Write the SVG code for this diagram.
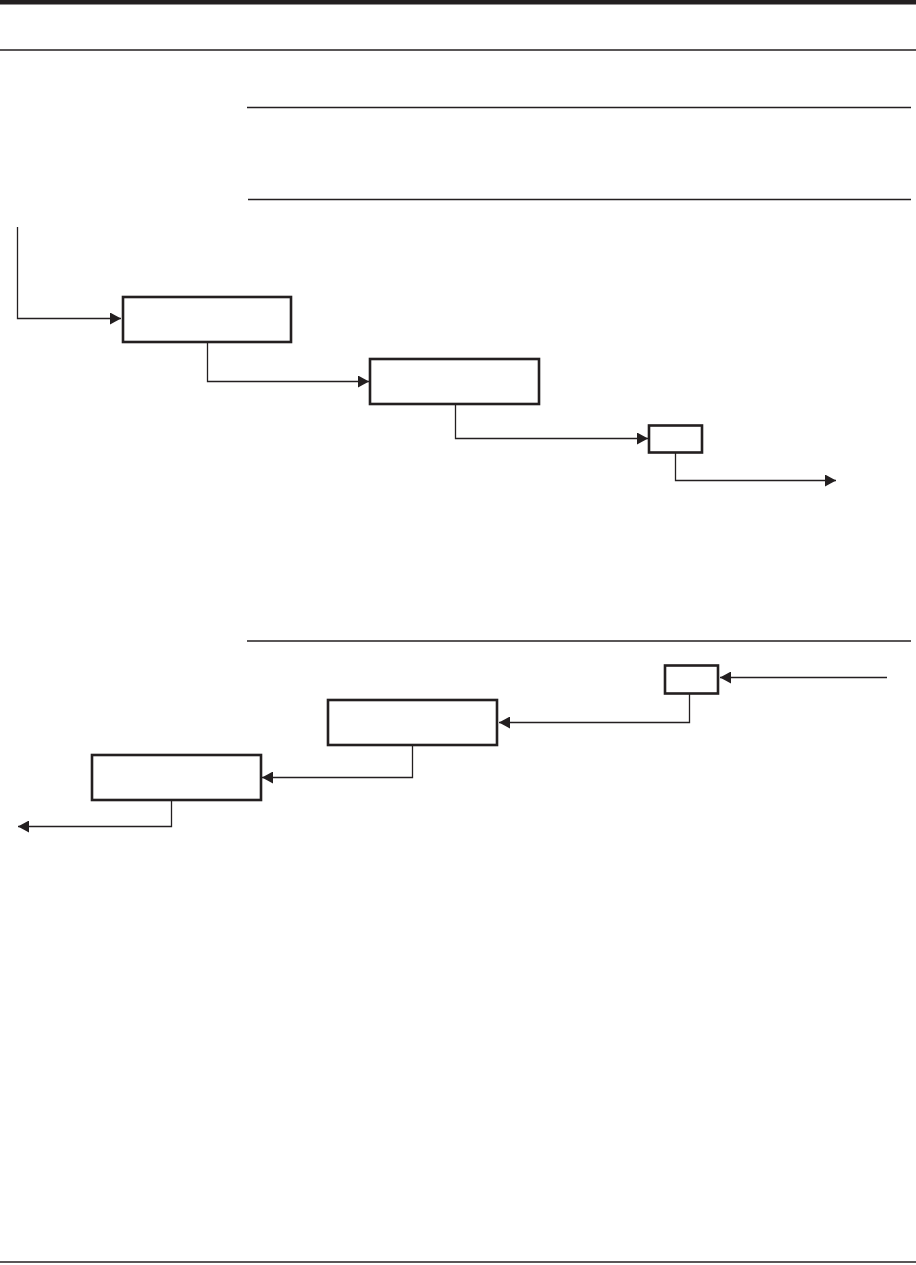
<svg xmlns="http://www.w3.org/2000/svg" width="916" height="1265" viewBox="0 0 916 1265">
<style>
.rule{stroke:#231f20;stroke-width:1.4;fill:none}
.box{fill:#fff;stroke:#231f20;stroke-width:2.6}
.conn{stroke:#231f20;stroke-width:1.3;fill:none}
</style>
<defs>
<marker id="ah" markerWidth="11" markerHeight="12" refX="11" refY="6" orient="auto" markerUnits="userSpaceOnUse">
<path d="M0,0 L11,6 L0,12 Z" fill="#231f20"/>
</marker>
</defs>
<rect width="916" height="1265" fill="#fff"/>
<g id="rules">
<rect x="0" y="0" width="916" height="4.5" fill="#231f20"/>
<line class="rule" x1="0" y1="50" x2="916" y2="50"/>
<line class="rule" x1="247" y1="107.5" x2="911" y2="107.5"/>
<line class="rule" x1="248" y1="199.5" x2="911" y2="199.5"/>
<line class="rule" x1="247" y1="641" x2="911" y2="641"/>
<line class="rule" x1="0" y1="1262" x2="916" y2="1262"/>
</g>
<g id="connectors">
<polyline class="conn" points="17.5,227 17.5,318.5 121,318.5" marker-end="url(#ah)"/>
<polyline class="conn" points="207.5,343 207.5,381.5 369,381.5" marker-end="url(#ah)"/>
<polyline class="conn" points="455.5,405 455.5,438.5 648,438.5" marker-end="url(#ah)"/>
<polyline class="conn" points="675.5,453 675.5,480.5 836,480.5" marker-end="url(#ah)"/>
<polyline class="conn" points="887,677.5 720,677.5" marker-end="url(#ah)"/>
<polyline class="conn" points="689.5,694 689.5,722.5 499,722.5" marker-end="url(#ah)"/>
<polyline class="conn" points="412.5,746 412.5,777.5 262,777.5" marker-end="url(#ah)"/>
<polyline class="conn" points="171.5,801 171.5,826.5 18,826.5" marker-end="url(#ah)"/>
</g>
<g id="node1"><rect class="box" x="123" y="297" width="168" height="45"/></g>
<g id="node2"><rect class="box" x="370" y="359" width="169" height="45"/></g>
<g id="node3"><rect class="box" x="649" y="425.5" width="53" height="27"/></g>
<g id="node4"><rect class="box" x="665" y="665.5" width="53" height="28"/></g>
<g id="node5"><rect class="box" x="328" y="700" width="169" height="45"/></g>
<g id="node6"><rect class="box" x="92" y="755" width="169" height="45"/></g>
</svg>
